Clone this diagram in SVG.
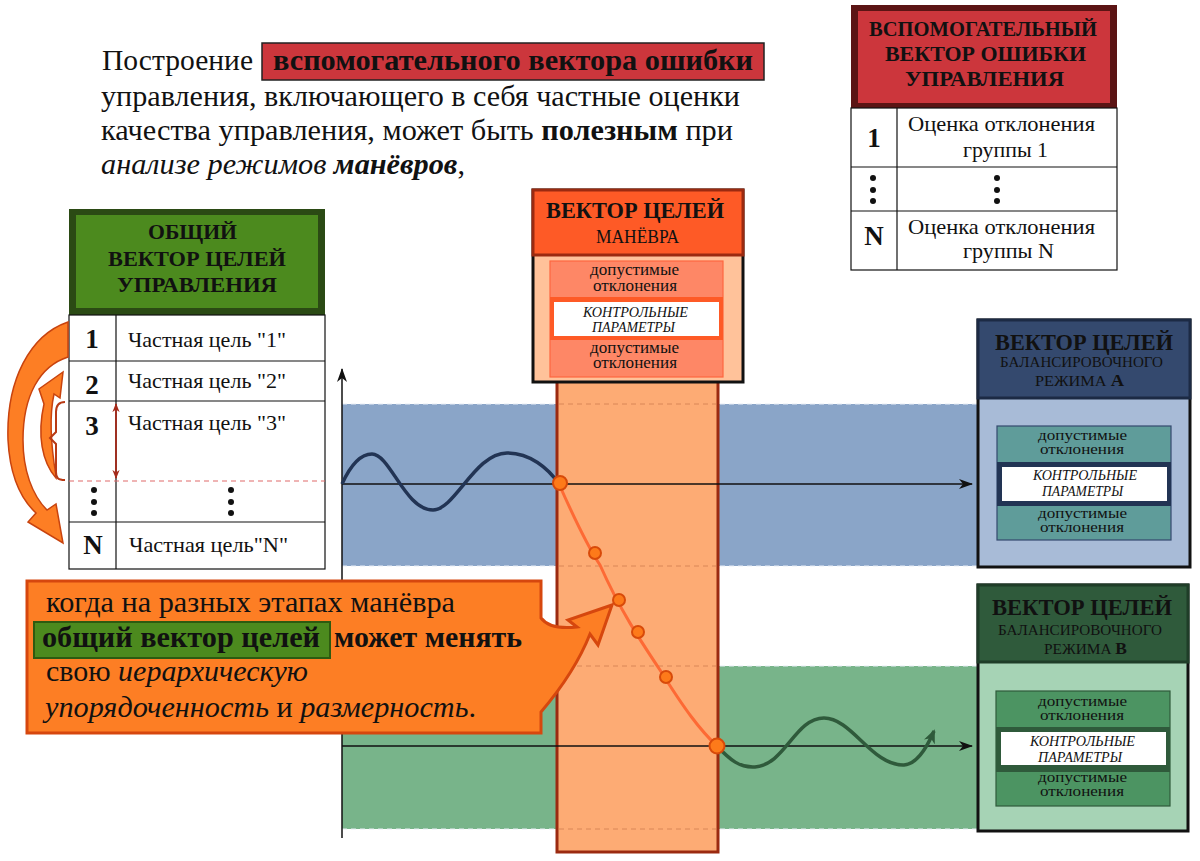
<svg xmlns="http://www.w3.org/2000/svg" width="1200" height="861" viewBox="0 0 1200 861">
<defs>
<style>
text{font-family:"Liberation Serif","Times New Roman",serif;fill:#111;}
.b{font-weight:bold;}
.i{font-style:italic;}
.ctr{text-anchor:middle;}
.cell{fill:#fff;stroke:#111;stroke-width:1.2;}
.dot{fill:#111;}
.dash{stroke-dasharray:5 4;}
</style>
<marker id="ah" viewBox="0 0 14 10" refX="13" refY="5" markerWidth="14" markerHeight="10" markerUnits="userSpaceOnUse" orient="auto">
<path d="M0,0 L14,5 L0,10 L4,5 Z" fill="#111"/>
</marker>
<marker id="ahg" viewBox="0 0 14 12" refX="12" refY="6" markerWidth="14" markerHeight="12" markerUnits="userSpaceOnUse" orient="auto">
<path d="M0,0 L14,6 L0,12 L4,6 Z" fill="#2f5a3b"/>
</marker>
<marker id="ahr" viewBox="0 0 10 10" refX="9" refY="5" markerWidth="9" markerHeight="9" markerUnits="userSpaceOnUse" orient="auto-start-reverse">
<path d="M0,1 L10,5 L0,9 L3,5 Z" fill="#a52a1a"/>
</marker>
</defs>
<rect width="1200" height="861" fill="#fff"/>

<g id="bands">
<rect x="342" y="404" width="636" height="162" fill="#8aa5c8"/>
<rect x="342" y="666" width="636" height="163" fill="#78b48a"/>
<g stroke="#e8eef5" stroke-width="1.2" class="dash">
<line x1="342" y1="404" x2="978" y2="404"/>
<line x1="342" y1="566" x2="978" y2="566"/>
<line x1="342" y1="666" x2="978" y2="666"/>
<line x1="342" y1="829" x2="978" y2="829"/>
</g>
</g>

<g id="maneuver-column">
<rect x="557" y="380" width="161" height="472" fill="#fdab74" stroke="#9b2a10" stroke-width="3"/>
<g stroke="#d98656" stroke-width="1" class="dash">
<line x1="559" y1="404" x2="716" y2="404"/>
<line x1="559" y1="566" x2="716" y2="566"/>
<line x1="559" y1="666" x2="716" y2="666"/>
<line x1="559" y1="829" x2="716" y2="829"/>
</g>
</g>

<g id="connectors">
<line x1="342" y1="838" x2="342" y2="369" stroke="#111" stroke-width="1.5" marker-end="url(#ah)"/>
<line x1="342" y1="484" x2="972" y2="484" stroke="#111" stroke-width="1.5" marker-end="url(#ah)"/>
<line x1="342" y1="746" x2="972" y2="746" stroke="#111" stroke-width="1.5" marker-end="url(#ah)"/>
<path d="M342,484 C352,462 362,454 372,454 C390,454 405,510 433,510 C455,510 475,453 507,453 C530,453 548,468 559,484" fill="none" stroke="#223454" stroke-width="3.5"/>
<path d="M559,484 C575,520 590,550 600,565 C620,610 640,640 660,670 C685,710 700,730 717,746" fill="none" stroke="#fd6a35" stroke-width="3"/>
<path d="M717,746 C730,760 740,768 755,767 C785,765 795,718 824,718 C852,718 872,766 904,765 C918,764 928,745 934,731" fill="none" stroke="#2f5a3b" stroke-width="3.5" marker-end="url(#ahg)"/>
<g fill="#fd7a1a" stroke="#d84a0a" stroke-width="2">
<circle cx="560" cy="483" r="7"/>
<circle cx="595" cy="553" r="6"/>
<circle cx="619" cy="600" r="6"/>
<circle cx="638" cy="632" r="6"/>
<circle cx="666" cy="677" r="6"/>
<circle cx="717" cy="746" r="7.5"/>
</g>
</g>

<g id="intro-text" font-size="29">
<rect x="262" y="43" width="502" height="37" fill="#cc363c" stroke="#222" stroke-width="1.5"/>
<text x="102" y="70" textLength="151" lengthAdjust="spacingAndGlyphs">Построение</text>
<text x="273" y="70" class="b" textLength="480" lengthAdjust="spacingAndGlyphs">вспомогательного вектора ошибки</text>
<text x="101" y="106" textLength="639" lengthAdjust="spacingAndGlyphs">управления, включающего в себя частные оценки</text>
<text x="101" y="140" textLength="632" lengthAdjust="spacingAndGlyphs">качества управления, может быть <tspan class="b">полезным</tspan> при</text>
<text x="101" y="174" textLength="364" lengthAdjust="spacingAndGlyphs"><tspan class="i">анализе режимов</tspan> <tspan class="b i">манёвров</tspan>,</text>
</g>

<g id="error-vector">
<rect x="851" y="5" width="266" height="103" fill="#5b1414"/>
<rect x="858" y="11" width="252" height="92" fill="#cc363c"/>
<g class="b" font-size="21">
<text x="869" y="36" textLength="228" lengthAdjust="spacingAndGlyphs">ВСПОМОГАТЕЛЬНЫЙ</text>
<text x="885" y="61" textLength="201" lengthAdjust="spacingAndGlyphs">ВЕКТОР ОШИБКИ</text>
<text x="905" y="86" textLength="159" lengthAdjust="spacingAndGlyphs">УПРАВЛЕНИЯ</text>
</g>
<rect x="851" y="108" width="266" height="162" class="cell" stroke-width="2.5"/>
<line x1="851" y1="167" x2="1117" y2="167" stroke="#111" stroke-width="1.2"/>
<line x1="851" y1="211" x2="1117" y2="211" stroke="#111" stroke-width="1.2"/>
<line x1="897" y1="108" x2="897" y2="270" stroke="#111" stroke-width="1.2"/>
<text x="874" y="147" class="b ctr" font-size="27">1</text>
<text x="874" y="245" class="b ctr" font-size="27">N</text>
<g font-size="21">
<text x="908" y="131" textLength="187" lengthAdjust="spacingAndGlyphs">Оценка отклонения</text>
<text x="963" y="157" textLength="85" lengthAdjust="spacingAndGlyphs">группы 1</text>
<text x="908" y="234" textLength="187" lengthAdjust="spacingAndGlyphs">Оценка отклонения</text>
<text x="963" y="258" textLength="91" lengthAdjust="spacingAndGlyphs">группы N</text>
</g>
<circle cx="873" cy="178" r="3" class="dot"/><circle cx="873" cy="190" r="3" class="dot"/><circle cx="873" cy="201" r="3" class="dot"/>
<circle cx="997" cy="178" r="3" class="dot"/><circle cx="997" cy="190" r="3" class="dot"/><circle cx="997" cy="201" r="3" class="dot"/>
</g>

<g id="general-vector">
<rect x="69" y="209" width="256" height="106" fill="#2b4a14"/>
<rect x="76" y="215" width="242" height="93" fill="#4c8a1e"/>
<g class="b" font-size="22">
<text x="148" y="239" textLength="89" lengthAdjust="spacingAndGlyphs">ОБЩИЙ</text>
<text x="108" y="266" textLength="178" lengthAdjust="spacingAndGlyphs">ВЕКТОР ЦЕЛЕЙ</text>
<text x="117" y="292" textLength="160" lengthAdjust="spacingAndGlyphs">УПРАВЛЕНИЯ</text>
</g>
<rect x="69" y="315" width="256" height="254" class="cell" stroke-width="2.5"/>
<g stroke="#111" stroke-width="1.2">
<line x1="69" y1="361" x2="325" y2="361"/>
<line x1="69" y1="401" x2="325" y2="401"/>
<line x1="69" y1="522" x2="325" y2="522"/>
<line x1="116" y1="315" x2="116" y2="569"/>
</g>
<line x1="69" y1="481" x2="325" y2="481" stroke="#e06a6a" stroke-width="1.2" class="dash"/>
<g class="b ctr" font-size="27">
<text x="92" y="348">1</text>
<text x="92" y="394">2</text>
<text x="92" y="435">3</text>
<text x="93" y="554">N</text>
</g>
<g font-size="21">
<text x="128" y="347" textLength="158" lengthAdjust="spacingAndGlyphs">Частная цель "1"</text>
<text x="128" y="388" textLength="158" lengthAdjust="spacingAndGlyphs">Частная цель "2"</text>
<text x="128" y="430" textLength="158" lengthAdjust="spacingAndGlyphs">Частная цель "3"</text>
<text x="129" y="552" textLength="159" lengthAdjust="spacingAndGlyphs">Частная цель"N"</text>
</g>
<circle cx="94" cy="490" r="3" class="dot"/><circle cx="94" cy="502" r="3" class="dot"/><circle cx="94" cy="513" r="3" class="dot"/>
<circle cx="231" cy="490" r="3" class="dot"/><circle cx="231" cy="502" r="3" class="dot"/><circle cx="231" cy="513" r="3" class="dot"/>
<line x1="116" y1="404" x2="116" y2="478" stroke="#a52a1a" stroke-width="1.8" marker-start="url(#ahr)" marker-end="url(#ahr)"/>
</g>

<g id="reorder-arrows" fill="#fd7e24" stroke="#c8430e" stroke-width="1.5" stroke-linejoin="miter">
<path d="M68,322 C30,335 6,380 8,440 C10,478 22,500 36,513 L28,522 L63,543 L56,504 L47,510 C32,495 23,470 23,440 C23,395 40,366 68,357 Z"/>
<path d="M56,478 C42,462 37,435 44,404 L39,389 L63,372 L60,398 L54,394 C50,412 50,440 56,476 Z"/>
<path d="M65,402 C58,402 56,406 56,412 L56,432 L50,438 L56,444 L56,472 C56,478 58,480 65,480" fill="none" stroke="#b83a15" stroke-width="2"/>
</g>

<g id="maneuver-vector">
<rect x="533" y="190" width="210" height="192" fill="#ffc29a" stroke="#111" stroke-width="3"/>
<rect x="533" y="190" width="210" height="65" fill="#fe5a26" stroke="#9b2a10" stroke-width="3"/>
<text x="546" y="218" class="b" font-size="23" textLength="178" lengthAdjust="spacingAndGlyphs">ВЕКТОР ЦЕЛЕЙ</text>
<text x="596" y="243" font-size="18" textLength="83" lengthAdjust="spacingAndGlyphs">МАНЁВРА</text>
<rect x="550" y="261" width="173" height="116" fill="#fe8766" stroke="#fe6640" stroke-width="1.2"/>
<rect x="550" y="297" width="173" height="43" fill="#fe5a26"/>
<rect x="554" y="302" width="165" height="34" fill="#fff"/>
<g font-size="16">
<text x="590" y="275" textLength="89" lengthAdjust="spacingAndGlyphs">допустимые</text>
<text x="593" y="291" textLength="84" lengthAdjust="spacingAndGlyphs">отклонения</text>
<text x="590" y="353" textLength="89" lengthAdjust="spacingAndGlyphs">допустимые</text>
<text x="593" y="368" textLength="84" lengthAdjust="spacingAndGlyphs">отклонения</text>
</g>
<g class="i" font-size="14">
<text x="583" y="317" textLength="105" lengthAdjust="spacingAndGlyphs">КОНТРОЛЬНЫЕ</text>
<text x="592" y="332" textLength="83" lengthAdjust="spacingAndGlyphs">ПАРАМЕТРЫ</text>
</g>
</g>

<g id="mode-a">
<rect x="978" y="320" width="212" height="247" fill="#a8bbd7" stroke="#111" stroke-width="3"/>
<rect x="978" y="320" width="212" height="78" fill="#34496e" stroke="#1c2a44" stroke-width="3"/>
<text x="995" y="350" class="b" font-size="23" textLength="178" lengthAdjust="spacingAndGlyphs">ВЕКТОР ЦЕЛЕЙ</text>
<text x="1000" y="367" font-size="15" textLength="163" lengthAdjust="spacingAndGlyphs">БАЛАНСИРОВОЧНОГО</text>
<text x="1035" y="386" font-size="15" textLength="89" lengthAdjust="spacingAndGlyphs">РЕЖИМА <tspan class="b" font-size="17">А</tspan></text>
<rect x="997" y="426" width="174" height="114" fill="#5f9c9a" stroke="#34496e" stroke-width="1.2"/>
<rect x="997" y="462" width="174" height="44" fill="#223454"/>
<rect x="1002" y="467" width="165" height="34" fill="#fff"/>
<g font-size="15">
<text x="1038" y="440" textLength="89" lengthAdjust="spacingAndGlyphs">допустимые</text>
<text x="1040" y="454" textLength="84" lengthAdjust="spacingAndGlyphs">отклонения</text>
<text x="1038" y="518" textLength="89" lengthAdjust="spacingAndGlyphs">допустимые</text>
<text x="1040" y="532" textLength="84" lengthAdjust="spacingAndGlyphs">отклонения</text>
</g>
<g class="i" font-size="14">
<text x="1033" y="480" textLength="104" lengthAdjust="spacingAndGlyphs">КОНТРОЛЬНЫЕ</text>
<text x="1042" y="496" textLength="81" lengthAdjust="spacingAndGlyphs">ПАРАМЕТРЫ</text>
</g>
</g>

<g id="mode-b">
<rect x="978" y="585" width="210" height="246" fill="#a6d3b5" stroke="#111" stroke-width="3"/>
<rect x="978" y="585" width="210" height="77" fill="#2f5a3b" stroke="#1f3d28" stroke-width="3"/>
<text x="992" y="615" class="b" font-size="23" textLength="180" lengthAdjust="spacingAndGlyphs">ВЕКТОР ЦЕЛЕЙ</text>
<text x="998" y="635" font-size="15" textLength="164" lengthAdjust="spacingAndGlyphs">БАЛАНСИРОВОЧНОГО</text>
<text x="1044" y="654" font-size="15" textLength="83" lengthAdjust="spacingAndGlyphs">РЕЖИМА <tspan class="b" font-size="17">В</tspan></text>
<rect x="996" y="691" width="174" height="115" fill="#4c9462" stroke="#2f5a3b" stroke-width="1.2"/>
<rect x="996" y="727" width="174" height="45" fill="#2f5a3b"/>
<rect x="1001" y="732" width="165" height="33" fill="#fff"/>
<g font-size="15">
<text x="1038" y="706" textLength="89" lengthAdjust="spacingAndGlyphs">допустимые</text>
<text x="1040" y="720" textLength="84" lengthAdjust="spacingAndGlyphs">отклонения</text>
<text x="1038" y="782" textLength="89" lengthAdjust="spacingAndGlyphs">допустимые</text>
<text x="1040" y="796" textLength="84" lengthAdjust="spacingAndGlyphs">отклонения</text>
</g>
<g class="i" font-size="14">
<text x="1030" y="746" textLength="105" lengthAdjust="spacingAndGlyphs">КОНТРОЛЬНЫЕ</text>
<text x="1038" y="762" textLength="84" lengthAdjust="spacingAndGlyphs">ПАРАМЕТРЫ</text>
</g>
</g>

<g id="callout">
<path d="M27,581 H541 V618 Q550,630 577,627 L568,620 L612,605 L598,645 L590,634 Q575,672 541,712 V733 H27 Z" fill="#fd7e24" stroke="#d6470e" stroke-width="3" stroke-linejoin="miter"/>
<rect x="34" y="622" width="296" height="36" fill="#4c8a1e" stroke="#2e5a10" stroke-width="2"/>
<g font-size="29">
<text x="46" y="612" textLength="409" lengthAdjust="spacingAndGlyphs">когда на разных этапах манёвра</text>
<text x="42" y="647" class="b" textLength="278" lengthAdjust="spacingAndGlyphs">общий вектор целей</text>
<text x="334" y="647" class="b" textLength="188" lengthAdjust="spacingAndGlyphs">может менять</text>
<text x="46" y="681" textLength="262" lengthAdjust="spacingAndGlyphs">свою <tspan class="i">иерархическую</tspan></text>
<text x="45" y="717" textLength="431" lengthAdjust="spacingAndGlyphs"><tspan class="i">упорядоченность</tspan> и <tspan class="i">размерность</tspan>.</text>
</g>
</g>
</svg>
